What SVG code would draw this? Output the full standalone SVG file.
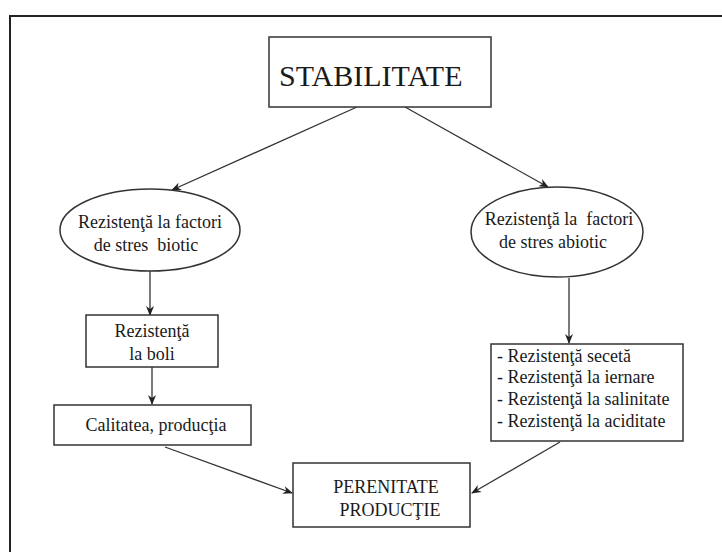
<svg xmlns="http://www.w3.org/2000/svg" width="722" height="552" viewBox="0 0 722 552">
<defs>
<marker id="ah" markerWidth="10" markerHeight="8" refX="9" refY="4" orient="auto" markerUnits="userSpaceOnUse">
<path d="M0,0 L10,4 L0,8 L3,4 Z" fill="#222"/>
</marker>
<style>
.box{fill:#fff;stroke:#333;stroke-width:1.5}
.t{font-family:"Liberation Serif","Times New Roman",serif;font-size:18px;fill:#1a1a1a;white-space:pre}
.c{stroke:#333;stroke-width:1.3;fill:none;marker-end:url(#ah)}
</style>
</defs>
<rect x="0" y="0" width="722" height="552" fill="#fff"/>
<path d="M10,560 L10,16 L730,16" fill="none" stroke="#222" stroke-width="2"/>
<g id="connectors">
<line class="c" x1="357" y1="107" x2="172" y2="190"/>
<line class="c" x1="405" y1="107" x2="548" y2="187"/>
<line class="c" x1="150" y1="271" x2="150" y2="315"/>
<line class="c" x1="152" y1="367" x2="152" y2="404"/>
<line class="c" x1="569" y1="278" x2="569" y2="343"/>
<line class="c" x1="165" y1="447" x2="292" y2="493"/>
<line class="c" x1="560" y1="442" x2="472" y2="493"/>
</g>
<g id="stabilitate">
<rect class="box" x="269" y="37" width="222" height="70"/>
<text class="t" x="279" y="86" style="font-size:30px">STABILITATE</text>
</g>
<g id="biotic">
<ellipse class="box" cx="150" cy="230" rx="90" ry="41"/>
<text class="t" x="150" y="228" text-anchor="middle">Rezistenţă la factori</text>
<text class="t" x="146" y="251" text-anchor="middle" xml:space="preserve">de stres  biotic</text>
</g>
<g id="abiotic">
<ellipse class="box" cx="557" cy="232" rx="86" ry="45"/>
<text class="t" x="559" y="225" text-anchor="middle" xml:space="preserve">Rezistenţă la  factori</text>
<text class="t" x="553" y="248" text-anchor="middle">de stres abiotic</text>
</g>
<g id="boli">
<rect class="box" x="86" y="315" width="132" height="52"/>
<text class="t" x="152" y="337" text-anchor="middle">Rezistenţă</text>
<text class="t" x="152" y="360" text-anchor="middle">la boli</text>
</g>
<g id="calitatea">
<rect class="box" x="54" y="405" width="197" height="40"/>
<text class="t" x="156" y="431" text-anchor="middle">Calitatea, producţia</text>
</g>
<g id="abiotic-list">
<rect class="box" x="491" y="344" width="192" height="97"/>
<text class="t" x="497" y="362">- Rezistenţă secetă</text>
<text class="t" x="497" y="383">- Rezistenţă la iernare</text>
<text class="t" x="497" y="405">- Rezistenţă la salinitate</text>
<text class="t" x="497" y="427">- Rezistenţă la aciditate</text>
</g>
<g id="perenitate">
<rect class="box" x="293" y="463" width="177" height="64"/>
<text class="t" x="386" y="493" text-anchor="middle">PERENITATE</text>
<text class="t" x="390" y="516" text-anchor="middle">PRODUCŢIE</text>
</g>
</svg>
